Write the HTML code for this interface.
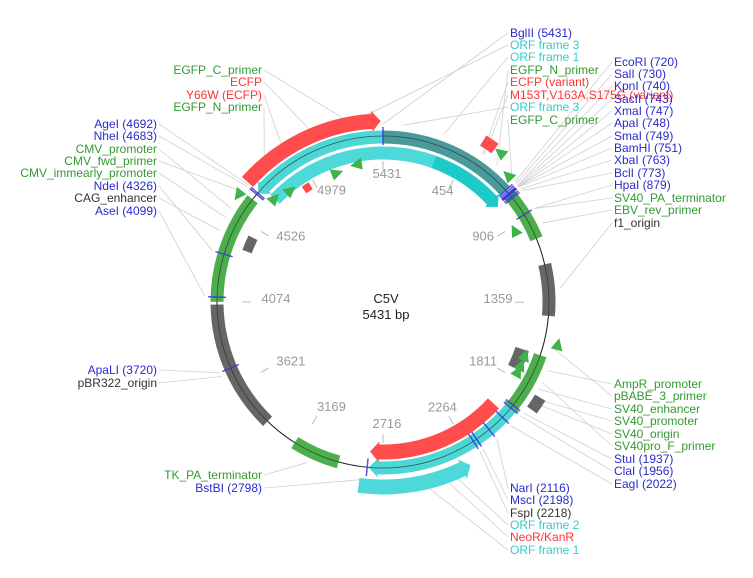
<!DOCTYPE html>
<html><head><meta charset="utf-8"><style>
body{margin:0;background:#fff;}
svg{display:block;font-family:"Liberation Sans",Arial,sans-serif;}
</style></head><body>
<svg id="map" width="753" height="578" viewBox="0 0 753 578" xmlns="http://www.w3.org/2000/svg"></svg>
<script>
const TOTAL = 5431;
const CX = 383, CY = 302, R = 166;
const featStarts = [4700, 4692, 0, 4730, 300, 4074, 3380, 2950, 740, 1160, 1640, 2000, 1950, 2290, 1640, 1830, 480, 4900, 4380];
const featEnds   = [5420, 5431, 720, 300, 760, 4650, 4060, 3200, 1020, 1430, 1990, 2790, 2790, 2830, 1760, 1900, 545, 4950, 4470];
const featRadii  = [181, 165, 165, 149, 149, 166, 166, 166, 166, 166, 166, 150, 166, 185, 147, 184, 190, 137, 145];
const featColors = ['#ff4d4d','#4dd6d6','#4a9a9c','#4dd9d9','#1ccaca','#4cae4c','#666666','#4cae4c','#4cae4c','#666666','#4cae4c','#ff4d4d','#4dd6d6','#4dd9d9','#666666','#666666','#ff4d4d','#ff4d4d','#666666'];
const featArrows = ['cw','ccw','','','cw','','','','','','cw','cw','cw','ccw','','','','',''];
const featNames  = ['ecfp','orf-frame-3','orf-frame-3-dark','orf-frame-1','orf-frame-1-end','cmv-promoter','pbr322-origin','tk-pa-terminator','sv40-pa-terminator','f1-origin','sv40-promoter','neor-kanr','orf-frame-2','orf-frame-1-bottom','ampr-promoter','sv40-origin','ecfp-variant','y66w','cag-enhancer'];
const featWidths = [15,13,13,13,13,13,13,13,13,13,13,15,13,15,14,12,12,8,10];
const primerPos = [5300, 4650, 4700, 4800, 5100, 600, 700, 960, 1590, 1700, 1760, 1800];
const primerRad = [140, 180, 150, 145, 137, 190, 178, 150, 180, 152, 152, 152];
const primerDir = ['ccw','ccw','cw','cw','cw','ccw','ccw','ccw','ccw','ccw','ccw','ccw'];
const enzPos = [720,730,740,743,747,748,749,751,763,773,879,5431,4692,4683,4326,4099,3720,2798,2116,2198,2218,1937,1956,2022];
const tickLabels = ['5431','454','906','1359','1811','2264','2716','3169','3621','4074','4526','4979'];
const tickValues = [0,454,906,1359,1811,2264,2716,3169,3621,4074,4526,4979];
const labelText = ['BglII (5431)','ORF frame 3','ORF frame 1','EGFP_N_primer','ECFP (variant)','M153T,V163A,S175G (variant)','ORF frame 3','EGFP_C_primer',
'EcoRI (720)','SalI (730)','KpnI (740)','SacII (743)','XmaI (747)','ApaI (748)','SmaI (749)','BamHI (751)','XbaI (763)','BclI (773)','HpaI (879)','SV40_PA_terminator','EBV_rev_primer','f1_origin',
'EGFP_C_primer','ECFP','Y66W (ECFP)','EGFP_N_primer',
'AgeI (4692)','NheI (4683)','CMV_promoter','CMV_fwd_primer','CMV_immearly_promoter','NdeI (4326)','CAG_enhancer','AseI (4099)',
'ApaLI (3720)','pBR322_origin','TK_PA_terminator','BstBI (2798)',
'NarI (2116)','MscI (2198)','FspI (2218)','ORF frame 2','NeoR/KanR','ORF frame 1',
'AmpR_promoter','pBABE_3_primer','SV40_enhancer','SV40_promoter','SV40_origin','SV40pro_F_primer','StuI (1937)','ClaI (1956)','EagI (2022)'];
const labelX = [510,510,510,510,510,510,510,510, 614,614,614,614,614,614,614,614,614,614,614,614,614,614, 262,262,262,262, 157,157,157,157,157,157,157,157, 157,157, 262,262, 510,510,510,510,510,510, 614,614,614,614,614,614,614,614,614];
const labelY = [37,49,61,74,86,99,111,124, 66,78,90,103,115,127,140,152,164,177,189,202,214,227, 74,86,99,111, 128,140,153,165,177,190,202,215, 374,387, 479,492, 492,504,517,529,541,554, 388,400,413,425,438,450,463,475,488];
const labelBp = [5431,5200,300,600,512,520,100,700, 720,730,740,743,747,748,749,751,763,773,879,880,960,1290, 5300,5100,4925,4800, 4692,4683,4550,4650,4500,4326,4430,4099, 3720,3700,3100,2798, 2116,2198,2218,2400,2450,2560, 1700,1590,1800,1850,1870,1760,1937,1956,2022];
const labelCol = ['#2a2acc','#33cccc','#33cccc','#339933','#ff3333','#ff3333','#33cccc','#339933',
'#2a2acc','#2a2acc','#2a2acc','#2a2acc','#2a2acc','#2a2acc','#2a2acc','#2a2acc','#2a2acc','#2a2acc','#2a2acc','#339933','#339933','#333333',
'#339933','#ff3333','#ff3333','#339933',
'#2a2acc','#2a2acc','#339933','#339933','#339933','#2a2acc','#333333','#2a2acc',
'#2a2acc','#333333','#339933','#2a2acc',
'#2a2acc','#2a2acc','#333333','#33cccc','#ff3333','#33cccc',
'#339933','#339933','#339933','#339933','#339933','#339933','#2a2acc','#2a2acc','#2a2acc'];

const NS='http://www.w3.org/2000/svg';
const svg=document.getElementById('map');
function ang(bp){return bp/TOTAL*2*Math.PI;}
function pt(bp,r){const a=ang(bp);return [CX+r*Math.sin(a),CY-r*Math.cos(a)];}
function mk(tag,attrs,parent){const e=document.createElementNS(NS,tag);for(const k in attrs)e.setAttribute(k,attrs[k]);(parent||svg).appendChild(e);return e;}
function f(n){return n.toFixed(2);}

const gLines=mk('g',{});


for(let i=0;i<labelText.length;i++){
  const p=pt(labelBp[i],R+12);
  const lx=labelX[i]; const ly=labelY[i]-4;
  const sx = labelX[i]===157||labelX[i]===262 ? lx+2 : lx-2;
  const l=mk('line',{x1:f(sx),y1:f(ly),x2:f(p[0]),y2:f(p[1]),stroke:'#d0d0d0','stroke-width':0.8},gLines);
  
  
}
const bb=mk('circle',{cx:CX,cy:CY,r:R,fill:'none',stroke:'#222','stroke-width':1});



for(let i=0;i<tickValues.length;i++){
  const a=pt(tickValues[i],R-25), b=pt(tickValues[i],R-34);
  const t=mk('line',{x1:f(a[0]),y1:f(a[1]),x2:f(b[0]),y2:f(b[1]),stroke:'#bbb','stroke-width':1});
  
  
  const an=ang(tickValues[i]);
  const x=387+111*Math.sin(an), y=298-125*Math.cos(an)+5;
  const tx=mk('text',{x:f(x),y:f(y),'text-anchor':'middle','font-size':'13',fill:'#999'});
  tx.textContent=tickLabels[i];
  
  
}

function band(s,e,r,w,color,arrow){
  if(e<s)e+=TOTAL;
  const ah=TOTAL*(9/(2*Math.PI*r));
  let s2=s,e2=e;
  if(arrow==='cw')e2=e-ah;
  if(arrow==='ccw')s2=s+ah;
  const ro=r+w/2, ri=r-w/2;
  const large=(e2-s2)/TOTAL>0.5?1:0;
  const p1=pt(s2,ro),p2=pt(e2,ro),p3=pt(e2,ri),p4=pt(s2,ri);
  let d='M'+f(p1[0])+','+f(p1[1])+' A'+ro+','+ro+' 0 '+large+' 1 '+f(p2[0])+','+f(p2[1]);
  if(arrow==='cw'){const a1=pt(e2,ro+3),tip=pt(e,r),a2=pt(e2,ri-3);d+=' L'+f(a1[0])+','+f(a1[1])+' L'+f(tip[0])+','+f(tip[1])+' L'+f(a2[0])+','+f(a2[1]);}
  d+=' L'+f(p3[0])+','+f(p3[1])+' A'+ri+','+ri+' 0 '+large+' 0 '+f(p4[0])+','+f(p4[1]);
  if(arrow==='ccw'){const a1=pt(s2,ri-3),tip=pt(s,r),a2=pt(s2,ro+3);d+=' L'+f(a1[0])+','+f(a1[1])+' L'+f(tip[0])+','+f(tip[1])+' L'+f(a2[0])+','+f(a2[1]);}
  d+=' Z';
  return mk('path',{d:d,fill:color});
}
for(let i=0;i<featStarts.length;i++){
  const p=band(featStarts[i],featEnds[i],featRadii[i],featWidths[i],featColors[i],featArrows[i]);
  
  
}
const bb2=mk('circle',{cx:CX,cy:CY,r:R,fill:'none',stroke:'#222','stroke-width':0.8,opacity:0.7});



for(let i=0;i<primerPos.length;i++){
  const r=primerRad[i], bp=primerPos[i];
  const d=TOTAL*(12/(2*Math.PI*r));
  const tipBp=primerDir[i]==='cw'?bp+d:bp-d;
  const a=pt(bp,r-6),b=pt(bp,r+6),t=pt(tipBp,r);
  const p=mk('path',{d:'M'+f(a[0])+','+f(a[1])+' L'+f(b[0])+','+f(b[1])+' L'+f(t[0])+','+f(t[1])+' Z',fill:'#3db34a'});
  
  
}
for(let i=0;i<enzPos.length;i++){
  const a=pt(enzPos[i],R-9),b=pt(enzPos[i],R+9);
  const l=mk('line',{x1:f(a[0]),y1:f(a[1]),x2:f(b[0]),y2:f(b[1]),stroke:'#3a3ad6','stroke-width':1.5,opacity:0.85});
  
  
}
for(let i=0;i<labelText.length;i++){
  const anchor=(labelX[i]===157||labelX[i]===262)?'end':'start';
  const t=mk('text',{x:labelX[i],y:labelY[i],'text-anchor':anchor,'font-size':'12',fill:labelCol[i]});
  t.textContent=labelText[i];
  
  
}
const t1=mk('text',{x:CX+3,y:303,'text-anchor':'middle','font-size':'13',fill:'#222'});t1.textContent='C5V';


const t2=mk('text',{x:CX+3,y:319,'text-anchor':'middle','font-size':'13',fill:'#222'});t2.textContent='5431 bp';


</script>
</body></html>
